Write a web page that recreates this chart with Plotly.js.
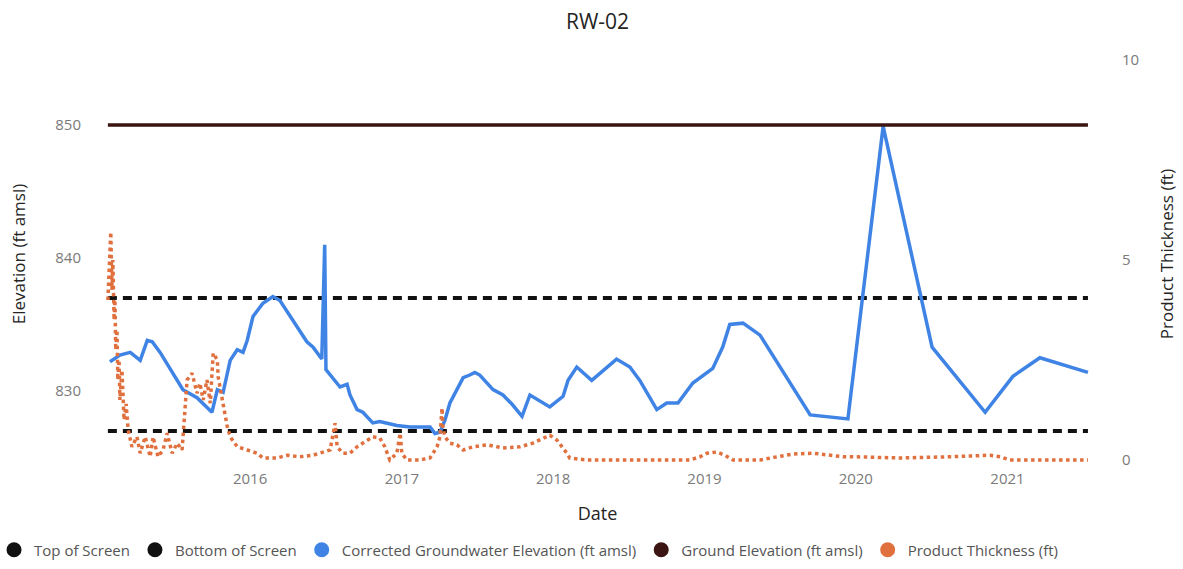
<!DOCTYPE html>
<html>
<head>
<meta charset="utf-8">
<script src="https://cdn.plot.ly/plotly-3.0.1.min.js"></script>
<style>html,body{margin:0;padding:0;background:#fff;}#chart{width:1183px;height:569px;}</style>
</head>
<body>
<div id="chart"></div>
<script>
// ---- data ----
const chartTitle = "RW-02";
const seriesNames = ["Top of Screen", "Bottom of Screen", "Corrected Groundwater Elevation (ft amsl)", "Ground Elevation (ft amsl)", "Product Thickness (ft)"];

const refDates = ["2015-01-23", "2021-07-14"];
const topOfScreen = [837.0, 837.0];
const bottomOfScreen = [827.0, 827.0];
const groundElevation = [850.0, 850.0];

const gwDates = ["2015-01-28","2015-02-21","2015-03-18","2015-04-11","2015-04-28","2015-05-10","2015-05-29","2015-07-23","2015-08-26","2015-09-19","2015-10-01","2015-10-14","2015-10-28","2015-11-14","2015-12-01","2015-12-15","2015-12-25","2016-01-08","2016-02-01","2016-02-25","2016-03-13","2016-05-17","2016-06-01","2016-06-22","2016-06-29","2016-07-02","2016-08-05","2016-08-22","2016-08-29","2016-09-15","2016-09-29","2016-10-23","2016-11-09","2016-12-20","2017-01-21","2017-03-10","2017-03-22","2017-04-03","2017-04-15","2017-04-27","2017-05-14","2017-05-29","2017-06-14","2017-06-26","2017-07-08","2017-08-09","2017-09-02","2017-09-24","2017-10-18","2017-11-06","2017-12-24","2018-01-25","2018-02-06","2018-02-27","2018-04-04","2018-06-03","2018-07-05","2018-07-29","2018-09-08","2018-10-02","2018-10-29","2018-12-04","2019-01-21","2019-02-14","2019-03-03","2019-04-04","2019-05-15","2019-09-13","2019-12-13","2020-03-07","2020-07-03","2020-11-08","2021-01-14","2021-03-20","2021-07-14"];
const gwElev = [832.2,832.7,832.9,832.3,833.8,833.7,832.9,830.1,829.5,828.8,828.4,830.1,829.9,832.3,833.1,832.9,833.8,835.6,836.6,837.1,836.8,833.7,833.3,832.4,841.0,831.6,830.3,830.5,829.7,828.6,828.4,827.6,827.7,827.4,827.3,827.3,826.8,826.9,827.8,829.1,830.1,831.0,831.2,831.4,831.2,830.1,829.7,829.0,828.1,829.7,828.8,829.6,830.8,831.8,830.8,832.4,831.8,830.8,828.6,829.1,829.1,830.6,831.7,833.3,835.0,835.1,834.2,828.2,827.9,849.9,833.3,828.4,831.1,832.5,831.4];

const ptDates = ["2015-01-23","2015-01-26","2015-01-28","2015-01-30","2015-02-02","2015-02-04","2015-02-07","2015-02-09","2015-02-11","2015-02-14","2015-02-16","2015-02-19","2015-02-21","2015-02-26","2015-03-03","2015-03-08","2015-03-13","2015-03-22","2015-04-03","2015-04-11","2015-04-23","2015-05-05","2015-05-12","2015-05-24","2015-06-05","2015-06-15","2015-06-27","2015-07-09","2015-07-21","2015-07-28","2015-08-02","2015-08-14","2015-08-26","2015-09-02","2015-09-10","2015-09-19","2015-09-27","2015-10-04","2015-10-14","2015-10-16","2015-10-28","2015-11-07","2015-11-14","2015-12-01","2015-12-25","2016-01-18","2016-02-01","2016-03-06","2016-03-30","2016-04-30","2016-06-01","2016-07-12","2016-07-24","2016-07-29","2016-08-12","2016-08-29","2016-09-15","2016-10-09","2016-10-23","2016-11-09","2016-11-21","2016-12-03","2016-12-20","2016-12-28","2017-01-01","2017-01-13","2017-02-13","2017-03-10","2017-03-27","2017-04-03","2017-04-08","2017-04-10","2017-04-15","2017-04-27","2017-05-14","2017-05-29","2017-06-22","2017-07-26","2017-09-02","2017-10-13","2017-11-13","2017-12-24","2018-01-10","2018-02-03","2018-02-10","2018-03-23","2018-11-27","2018-12-21","2019-01-07","2019-01-31","2019-02-19","2019-03-11","2019-05-15","2019-06-25","2019-08-03","2019-09-20","2019-10-24","2019-12-01","2020-01-04","2020-04-17","2020-08-16","2020-11-20","2020-12-14","2021-01-07","2021-07-14"];
const ptThick = [4.0,4.75,5.4,5.7,4.25,5.0,3.5,4.0,2.75,3.25,2.0,2.5,1.5,2.25,1.0,1.4,0.75,0.33,0.58,0.17,0.58,0.08,0.58,0.08,0.25,0.67,0.17,0.42,0.25,1.17,2.0,2.17,1.67,1.92,1.5,2.0,1.42,2.67,2.5,2.08,1.33,0.83,0.58,0.33,0.25,0.17,0.05,0.05,0.12,0.08,0.12,0.25,0.92,0.33,0.17,0.17,0.33,0.5,0.58,0.55,0.33,0.0,0.17,0.67,0.17,0.0,0.0,0.05,0.33,0.58,1.3,0.83,0.58,0.42,0.38,0.25,0.33,0.38,0.3,0.33,0.42,0.62,0.5,0.17,0.05,0.0,0.0,0.08,0.17,0.2,0.12,0.0,0.0,0.08,0.15,0.17,0.12,0.08,0.08,0.05,0.08,0.12,0.08,0.0,0.0];

const xTickVals = ["2016-01-01","2017-01-01","2018-01-01","2019-01-01","2020-01-01","2021-01-01"];
const xTickText = ["2016","2017","2018","2019","2020","2021"];
const yTickVals = [830, 840, 850];
const y2TickVals = [0, 5, 10];

// ---- styles ----
const colors = ["#111111", "#111111", "#3F84E5", "#3A1512", "#E0703E"];
const FONT = "'Segoe UI', 'Open Sans', 'Noto Sans', sans-serif";

const traces = [
  {x: refDates, y: topOfScreen, mode: "lines", line: {color: colors[0], width: 4, dash: "9px,6px"}, showlegend: false, legendgroup: "a", name: seriesNames[0]},
  {x: refDates, y: bottomOfScreen, mode: "lines", line: {color: colors[1], width: 4, dash: "9px,6px"}, showlegend: false, legendgroup: "b", name: seriesNames[1]},
  {x: gwDates, y: gwElev, mode: "lines", line: {color: colors[2], width: 3.5}, showlegend: false, legendgroup: "c", name: seriesNames[2]},
  {x: refDates, y: groundElevation, mode: "lines", line: {color: colors[3], width: 3.5}, showlegend: false, legendgroup: "d", name: seriesNames[3]},
  {x: ptDates, y: ptThick, yaxis: "y2", mode: "lines", line: {color: colors[4], width: 3.5, dash: "dot"}, showlegend: false, legendgroup: "e", name: seriesNames[4]}
];
// legend entries (round markers like the original)
const groups = ["a","b","c","d","e"];
seriesNames.forEach((n, i) => {
  traces.push({x: [null], y: [null], mode: "markers", marker: {color: colors[i], size: 15, symbol: "circle"}, name: n, legendgroup: groups[i], showlegend: true});
});

const layout = {
  width: 1183, height: 569,
  paper_bgcolor: "#ffffff", plot_bgcolor: "#ffffff",
  margin: {l: 100, r: 88, t: 40, b: 101, autoexpand: false},
  font: {family: FONT, color: "#666"},
  title: {text: chartTitle, x: 0.5, xref: "paper", y: 1 - 22/569, yref: "container", yanchor: "middle",
          font: {family: FONT, size: 21, color: "#252423"}},
  xaxis: {type: "date", range: ["2015-01-04", "2021-07-31"], tickvals: xTickVals, ticktext: xTickText,
          showgrid: false, zeroline: false, showline: false, ticks: "",
          tickfont: {family: FONT, size: 15, color: "#7a7a7a"},
          title: {text: "Date", font: {family: FONT, size: 18, color: "#252423"}, standoff: 20}},
  yaxis: {range: [824.21, 856.39], tickvals: yTickVals, showgrid: false, zeroline: false, showline: false, ticks: "",
          ticklabelstandoff: 18,
          tickfont: {family: FONT, size: 15, color: "#7a7a7a"},
          title: {text: "Elevation (ft amsl)", font: {family: FONT, size: 17, color: "#252423"}, standoff: 25}},
  yaxis2: {overlaying: "y", side: "right", range: [-0.2, 10.5], tickvals: y2TickVals, showgrid: false, zeroline: false, showline: false, ticks: "",
           ticklabelstandoff: 26,
           tickfont: {family: FONT, size: 15, color: "#7a7a7a"},
           title: {text: "Product Thickness (ft)", font: {family: FONT, size: 17, color: "#252423"}, standoff: 22}},
  legend: {orientation: "h", xref: "paper", yref: "paper", x: -0.1065, xanchor: "left", y: -0.1916, yanchor: "middle",
           font: {family: FONT, size: 15, color: "#555"}, itemwidth: 30, tracegroupgap: 0, bgcolor: "rgba(0,0,0,0)"},
  showlegend: true
};

Plotly.newPlot("chart", traces, layout, {displayModeBar: false, staticPlot: true});
</script>
</body>
</html>
